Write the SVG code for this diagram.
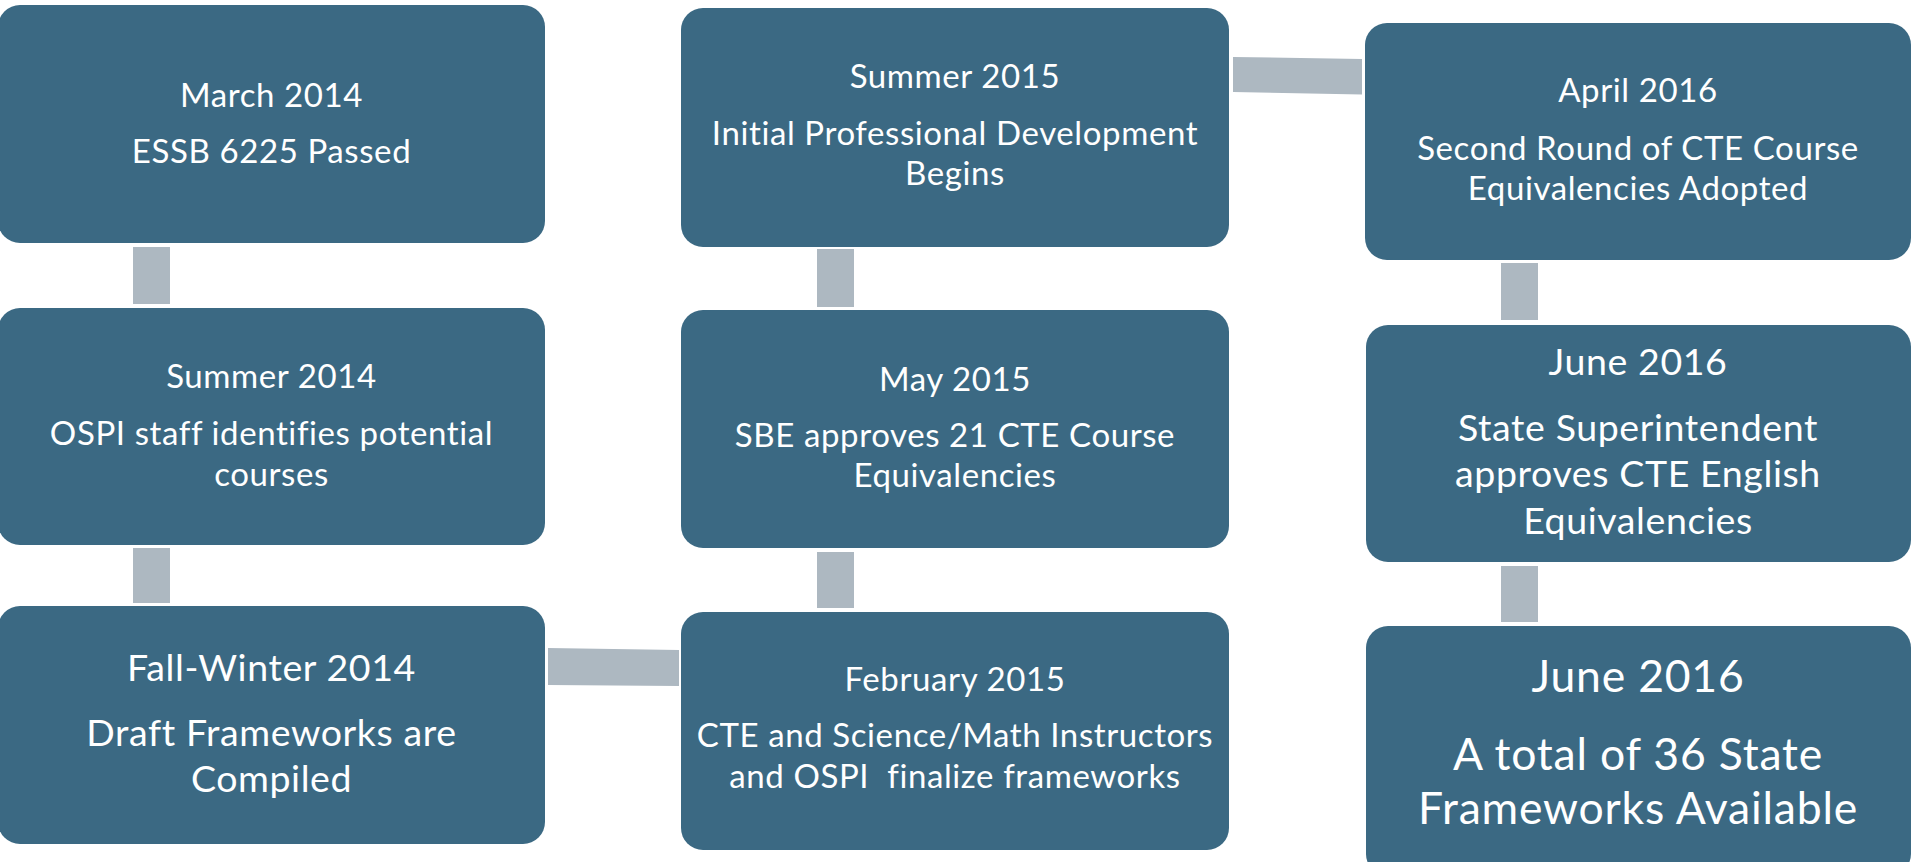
<svg xmlns="http://www.w3.org/2000/svg" width="1913" height="862" viewBox="0 0 1913 862">
  <style>
    .box { fill: #3B6983; }
    .link { fill: #ADB8C1; }
    text { fill: #FFFFFF; font-family: Lato, "Open Sans", "Liberation Sans", sans-serif; text-anchor: middle; }
    .t { font-size: 33px; letter-spacing: 0.6px; }
    .tm { font-size: 37.5px; letter-spacing: 0.6px; }
    .tl { font-size: 44.5px; letter-spacing: 0.8px; }
  </style>

  <!-- connectors between timeline steps -->
  <g id="connectors">
    <rect class="link" x="133" y="247" width="37" height="57"/>
    <rect class="link" x="133" y="548" width="37" height="55"/>
    <polygon class="link" points="548,648 679,650 679,686 548,685"/>
    <rect class="link" x="817" y="552" width="37" height="56"/>
    <rect class="link" x="817" y="249" width="37" height="58"/>
    <polygon class="link" points="1233,57 1362,59 1362,94.5 1233,92"/>
    <rect class="link" x="1501" y="263" width="37" height="57"/>
    <rect class="link" x="1501" y="566" width="37" height="56"/>
  </g>

  <g id="step-march-2014">
    <rect class="box" x="-2" y="5" width="547" height="238" rx="22"/>
    <text class="t" x="271.5" y="107">March 2014</text>
    <text class="t" x="271.5" y="163">ESSB 6225 Passed</text>
  </g>

  <g id="step-summer-2014">
    <rect class="box" x="-2" y="308" width="547" height="237" rx="22"/>
    <text class="t" x="271.5" y="388">Summer 2014</text>
    <text class="t" x="271.5" y="445">OSPI staff identifies potential</text>
    <text class="t" x="271.5" y="486">courses</text>
  </g>

  <g id="step-fall-winter-2014">
    <rect class="box" x="-2" y="606" width="547" height="238" rx="22"/>
    <text class="tm" x="271.5" y="681">Fall-Winter 2014</text>
    <text class="tm" x="271.5" y="746">Draft Frameworks are</text>
    <text class="tm" x="271.5" y="792">Compiled</text>
  </g>

  <g id="step-february-2015">
    <rect class="box" x="681" y="612" width="548" height="238" rx="22"/>
    <text class="t" x="955" y="691">February 2015</text>
    <text class="t" x="955" y="747">CTE and Science/Math Instructors</text>
    <text class="t" x="955" y="788" xml:space="preserve">and OSPI  finalize frameworks</text>
  </g>

  <g id="step-may-2015">
    <rect class="box" x="681" y="310" width="548" height="238" rx="22"/>
    <text class="t" x="955" y="391">May 2015</text>
    <text class="t" x="955" y="447">SBE approves 21 CTE Course</text>
    <text class="t" x="955" y="487">Equivalencies</text>
  </g>

  <g id="step-summer-2015">
    <rect class="box" x="681" y="8" width="548" height="239" rx="22"/>
    <text class="t" x="955" y="88">Summer 2015</text>
    <text class="t" x="955" y="145">Initial Professional Development</text>
    <text class="t" x="955" y="185">Begins</text>
  </g>

  <g id="step-april-2016">
    <rect class="box" x="1365" y="23" width="546" height="237" rx="22"/>
    <text class="t" x="1638" y="102">April 2016</text>
    <text class="t" x="1638" y="160">Second Round of CTE Course</text>
    <text class="t" x="1638" y="200">Equivalencies Adopted</text>
  </g>

  <g id="step-june-2016-english">
    <rect class="box" x="1366" y="325" width="545" height="237" rx="22"/>
    <text class="tm" x="1638" y="375">June 2016</text>
    <text class="tm" x="1638" y="441">State Superintendent</text>
    <text class="tm" x="1638" y="487">approves CTE English</text>
    <text class="tm" x="1638" y="534">Equivalencies</text>
  </g>

  <g id="step-june-2016-frameworks">
    <rect class="box" x="1366" y="626" width="545" height="250" rx="22"/>
    <text class="tl" x="1638" y="692">June 2016</text>
    <text class="tl" x="1638" y="770">A total of 36 State</text>
    <text class="tl" x="1638" y="824">Frameworks Available</text>
  </g>
</svg>
